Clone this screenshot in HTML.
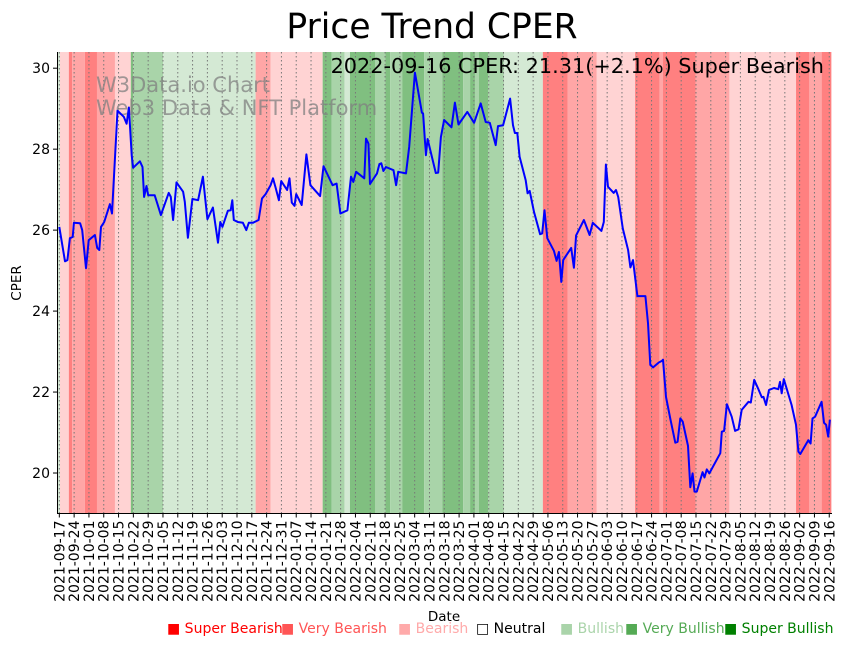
<!DOCTYPE html>
<html><head><meta charset="utf-8">
<style>
body{margin:0;background:#fff;}
svg text{font-family:"DejaVu Sans","Liberation Sans",sans-serif;}
</style></head>
<body>
<svg id="chart" width="848" height="646" viewBox="0 0 848 646" xmlns="http://www.w3.org/2000/svg">
<text x="432" y="38" font-size="34.5" text-anchor="middle">Price Trend CPER</text>
<g id="bands"></g>
<g id="grid"></g>
<text x="96" y="92" font-size="21" fill="#808080" fill-opacity="0.75">W3Data.io Chart</text>
<text x="96" y="115" font-size="21" fill="#808080" fill-opacity="0.75">Web3 Data &amp; NFT Platform</text>
<path id="line" fill="none" stroke="#0000ff" stroke-width="2" stroke-linejoin="round"/>
<text x="824" y="73" font-size="20.8" text-anchor="end">2022-09-16 CPER: 21.31(+2.1%) Super Bearish</text>
<line x1="57.5" y1="52" x2="57.5" y2="514" stroke="#000" stroke-width="1"/>
<line x1="57" y1="513.5" x2="832" y2="513.5" stroke="#000" stroke-width="1"/>
<g id="yticks"></g>
<g id="xticks"></g>
<text transform="translate(21,283) rotate(-90)" font-size="13.5" text-anchor="middle">CPER</text>
<text x="444" y="621" font-size="13.5" text-anchor="middle">Date</text>
<g font-size="14">
<text x="167" y="633" fill="#ff0000">■ Super Bearish</text>
<text x="281" y="633" fill="#ff5555">■ Very Bearish</text>
<text x="398" y="633" fill="#ffaaaa">■ Bearish</text>
<text x="476" y="633" fill="#000000">□ Neutral</text>
<text x="560" y="633" fill="#aad4aa">■ Bullish</text>
<text x="625" y="633" fill="#55aa55">■ Very Bullish</text>
<text x="724" y="633" fill="#008000">■ Super Bullish</text>
</g>
</svg>
<script>
const days=[0,2.7,3.8,5,6.3,6.9,9.8,10.8,12.6,13.9,16.8,17.9,18.9,19.7,21.2,23.9,24.9,27.5,30.5,31.8,32.9,34.2,34.9,38.1,39.3,40.1,41.2,42,45.1,46.2,48,51.7,52.7,53.8,55.4,58.5,59.3,60.8,62.9,65.6,67.9,70,72.6,75,76.1,77.1,79.7,81,81.8,82.5,84.4,86.8,88.4,89.6,91.5,94.2,95.8,97.5,99.9,101,102.3,103.8,104.9,107.7,108.8,109.9,111.2,112,114.6,116.8,118.7,123.3,124.9,129.2,131.1,132.9,136.2,137.9,139,140.3,144.2,145,146.1,146.9,150.2,151.3,152.2,153.2,154.4,158,159.2,160.2,163.9,165.4,168.1,171.4,172,173.3,174.1,178,179.1,180.4,181.9,185.4,187,188.7,192.9,196.1,199.2,201.6,203.5,206.3,207.4,209.8,213.1,214.5,215.4,216.5,217.6,220.5,221.4,222.4,224.4,227.3,228.3,229.4,230.7,233.8,235.1,236.2,237.3,238.2,242,243.3,244.3,248,250.7,252.2,256.3,257.4,258.4,259.4,262.1,263.2,264.2,266.4,268.9,270,271.2,273.3,277.1,278.3,279.4,280.7,283.4,284.9,285.4,286.8,288.9,291.2,292.3,293.6,294.7,297.2,298.3,299.4,300.3,301.4,304.1,305,306.1,307.3,312.5,313.2,314.3,315.6,317.9,319.5,321.1,322.6,325.8,326.9,328.5,330.5,332.1,332.9,334.1,335.5,337.9,339.9,340.7,341.5,342.5,346.2,348.3,349.4,350.3,354.1,355.2,356.1,357.3,360.4,361.5,362.5,363.5,364.3];
const prices=[26.08,25.23,25.26,25.8,25.83,26.18,26.17,26.0,25.06,25.75,25.88,25.56,25.51,26.08,26.2,26.64,26.41,28.95,28.8,28.63,29.03,27.85,27.54,27.7,27.56,26.82,27.09,26.86,26.86,26.68,26.37,26.92,26.82,26.25,27.18,26.95,26.7,25.81,26.77,26.74,27.32,26.27,26.56,25.69,26.2,26.08,26.48,26.49,26.74,26.25,26.2,26.18,26.0,26.18,26.18,26.25,26.78,26.89,27.11,27.28,27.04,26.74,27.21,26.99,27.28,26.68,26.6,26.89,26.62,27.87,27.11,26.84,27.58,27.11,27.15,26.41,26.49,27.32,27.19,27.44,27.28,28.26,28.14,27.14,27.4,27.63,27.65,27.46,27.56,27.48,27.11,27.44,27.4,28.06,29.89,28.9,28.88,27.85,28.25,27.41,27.42,28.3,28.72,28.54,29.15,28.61,28.92,28.65,29.13,28.67,28.65,28.1,28.57,28.59,29.25,28.59,28.4,28.4,27.81,27.23,26.91,26.97,26.45,25.9,25.92,26.49,25.8,25.49,25.24,25.46,24.72,25.26,25.56,25.07,25.87,26.25,25.88,26.18,25.98,26.2,27.62,27.07,26.92,26.99,26.82,26.04,25.51,25.08,25.26,24.37,24.37,23.7,22.67,22.61,22.73,22.77,22.8,21.88,21.33,20.75,20.77,21.35,21.27,20.67,19.65,19.99,19.54,19.54,20.02,19.89,20.09,19.99,20.49,21.02,21.04,21.7,21.39,21.04,21.08,21.56,21.76,21.74,22.3,22.07,21.87,21.88,21.68,22.05,22.1,22.07,22.25,21.97,22.32,21.68,21.19,20.53,20.47,20.81,20.73,21.35,21.39,21.76,21.24,21.19,20.9,21.32];
const bandStarts=[-1.1,0.3,4.5,6.1,12.1,17.8,26.3,33.8,34.9,49.1,92.8,99.9,124.5,128.8,134.8,137.4,149.4,154.1,156.4,162.1,172.5,181.1,190.9,194.2,196.5,198.4,202.8,210.2,228.6,240.4,254.1,272.2,283.8,285.4,300.8,316.8,348.3,354.6,360.4];
const bandEnds=[0.3,4.5,6.1,12.1,17.8,26.3,33.8,34.9,49.1,92.8,99.9,124.5,128.8,134.8,137.4,149.4,154.1,156.4,162.1,172.5,181.1,190.9,194.2,196.5,198.4,202.8,210.2,228.6,240.4,254.1,272.2,283.8,285.4,300.8,316.8,348.3,354.6,360.4,365];
const bandCats=["bull","bear","sbear","vbear","sbear","vbear","bear","sbull","vbull","bull","vbear","bear","sbull","vbull","bull","sbull","vbull","sbull","vbull","sbull","vbull","sbull","vbull","sbull","vbull","sbull","vbull","bull","sbear","vbear","bear","sbear","vbear","sbear","vbear","bear","sbear","vbear","sbear"];
const yTicks=[20,22,24,26,28,30];
const xTickLabels=["2021-09-17","2021-09-24","2021-10-01","2021-10-08","2021-10-15","2021-10-22","2021-10-29","2021-11-05","2021-11-12","2021-11-19","2021-11-26","2021-12-03","2021-12-10","2021-12-17","2021-12-24","2021-12-31","2022-01-07","2022-01-14","2022-01-21","2022-01-28","2022-02-04","2022-02-11","2022-02-18","2022-02-25","2022-03-04","2022-03-11","2022-03-18","2022-03-25","2022-04-01","2022-04-08","2022-04-15","2022-04-22","2022-04-29","2022-05-06","2022-05-13","2022-05-20","2022-05-27","2022-06-03","2022-06-10","2022-06-17","2022-06-24","2022-07-01","2022-07-08","2022-07-15","2022-07-22","2022-07-29","2022-08-05","2022-08-12","2022-08-19","2022-08-26","2022-09-02","2022-09-09","2022-09-16"];

const NS="http://www.w3.org/2000/svg";
const PL=57,PR=832,PT=52,PB=513.5;
const D0=-1.1,D1=365.3,Y0=19,Y1=30.4;
const xs=d=>PL+(d-D0)/(D1-D0)*(PR-PL);
const ys=v=>PB-(v-Y0)/(Y1-Y0)*(PB-PT);
const colors={sbear:"#ff8080",vbear:"#ffa6a6",bear:"#ffd3d3",bull:"#d4e9d4",vbull:"#a9d4a9",sbull:"#80bf80"};
function mk(tag,attrs,parent){const e=document.createElementNS(NS,tag);for(const k in attrs)e.setAttribute(k,attrs[k]);parent.appendChild(e);return e;}

const bands=document.getElementById('bands');
bandCats.forEach((c,i)=>{
  const x1=Math.max(PL,xs(bandStarts[i])),x2=Math.min(PR,xs(bandEnds[i]));
  const r=mk('rect',{x:x1,y:PT,width:Math.max(0,x2-x1),height:PB-PT,fill:colors[c]},bands);
  
  
});

const grid=document.getElementById('grid'),xt=document.getElementById('xticks');
xTickLabels.forEach((lab,i)=>{
  const x=xs(i*7);
  const g=mk('line',{x1:x,y1:PT,x2:x,y2:PB,stroke:"#777",'stroke-width':1,'stroke-dasharray':"1.5,2.5"},grid);
  
  
  mk('line',{x1:x,y1:PB,x2:x,y2:PB+4,stroke:"#000"},xt);
  const t=mk('text',{transform:`translate(${x+5},${PB+7}) rotate(-90)`,'font-size':14,'text-anchor':'end'},xt);
  t.textContent=lab;
  
  
});

const yt=document.getElementById('yticks');
yTicks.forEach(v=>{
  const y=ys(v);
  mk('line',{x1:PL-4,y1:y,x2:PL,y2:y,stroke:"#000"},yt);
  const t=mk('text',{x:PL-7,y:y+5,'font-size':14,'text-anchor':'end'},yt);
  t.textContent=v;
  
  
});

document.getElementById('line').setAttribute('d',days.map((d,i)=>(i?'L':'M')+xs(d).toFixed(1)+','+ys(prices[i]).toFixed(1)).join(''));
</script>
</body></html>
